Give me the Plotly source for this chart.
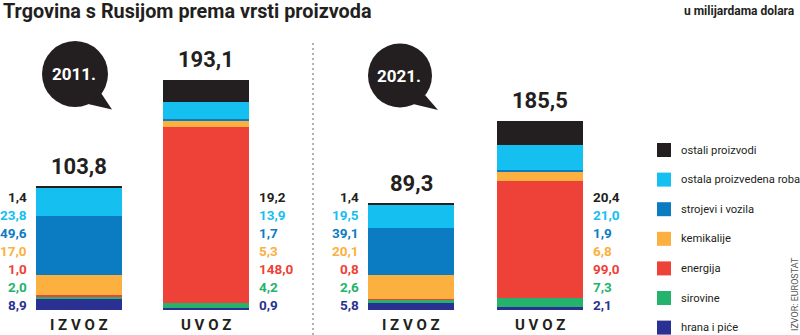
import plotly.graph_objects as go

# ---------------- data ----------------
categories = ["hrana i piće", "sirovine", "energija", "kemikalije",
              "strojevi i vozila", "ostala proizvedena roba", "ostali proizvodi"]
colors = ["#2b3192", "#25b36c", "#ee4137", "#fbb040", "#0b7cc2", "#15c0f0", "#231f20"]
label_colors = ["#2b3192", "#25b36c", "#ee4137", "#fbb040", "#0b7cc2", "#15c0f0", "#231f20"]

izvoz_2011 = [8.9, 2.0, 1.0, 17.0, 49.6, 23.8, 1.4]
uvoz_2011 = [0.9, 4.2, 148.0, 5.3, 1.7, 13.9, 19.2]
izvoz_2021 = [5.8, 2.6, 0.8, 20.1, 39.1, 19.5, 1.4]
uvoz_2021 = [2.1, 7.3, 99.0, 6.8, 1.9, 21.0, 20.4]

bar_names = ["I\u00a0Z\u00a0V\u00a0O\u00a0Z", "U\u00a0V\u00a0O\u00a0Z",
             "I\u00a0Z\u00a0V\u00a0O\u00a0Z", "U\u00a0V\u00a0O\u00a0Z"]
total_labels = ["103,8", "193,1", "89,3", "185,5"]
years = ["2011.", "2021."]

title = "Trgovina s Rusijom prema vrsti proizvoda"
unit = "u milijardama dolara"
source = "IZVOR: EUROSTAT"

# ---------------- layout constants ----------------
W, H = 800, 335
BASE_PX = 309.5      # pixel row of value 0
K = 1.19             # pixels per unit
bar_centers = [79, 205.5, 411, 540]
bar_width = 86
FONT = "Roboto, Liberation Sans, sans-serif"

series = [izvoz_2011, uvoz_2011, izvoz_2021, uvoz_2021]


def py(p):  # pixel row -> paper
    return 1 - p / H


fig = go.Figure()
for i, cat in enumerate(categories):
    fig.add_trace(go.Bar(
        x=bar_centers, y=[s[i] for s in series], width=bar_width,
        name=cat, marker=dict(color=colors[i], line=dict(width=0)),
        hoverinfo="skip", showlegend=False))

ann = []
shapes = []

# title & unit
ann.append(dict(x=1, y=py(11), xref="x", yref="paper", text=f"<b>{title}</b>",
                showarrow=False, xanchor="left", yanchor="middle",
                font=dict(family=FONT, size=19.8, color="#231f20")))
ann.append(dict(x=797, y=py(11), xref="x", yref="paper", text=f"<b>{unit}</b>",
                showarrow=False, xanchor="right", yanchor="middle",
                font=dict(family=FONT, size=12, color="#231f20")))

# totals
for j, s in enumerate(series):
    ann.append(dict(x=bar_centers[j], y=sum(s), xref="x", yref="y", text=f"<b>{total_labels[j]}</b>",
                    showarrow=False, xanchor="center", yanchor="middle", yshift=20,
                    font=dict(family=FONT, size=22, color="#231f20")))
    ann.append(dict(x=bar_centers[j], y=py(325), xref="x", yref="paper", text=f"<b>{bar_names[j]}</b>",
                    showarrow=False, xanchor="center", yanchor="middle",
                    font=dict(family=FONT, size=15, color="#231f20")))

# value labels
for j, s in enumerate(series):
    left = (j % 2 == 0)
    xpos = bar_centers[j] - bar_width / 2 - 7 if left else bar_centers[j] + bar_width / 2 + 8
    for r in range(len(categories)):
        i = len(categories) - 1 - r  # top to bottom
        ann.append(dict(x=xpos, y=py(197 + r * 18), xref="x", yref="paper",
                        text="<b>" + f"{s[i]:.1f}".replace(".", ",") + "</b>",
                        showarrow=False, xanchor="right" if left else "left", yanchor="middle",
                        font=dict(family=FONT, size=13.5, color=label_colors[i])))

# legend
for r in range(len(categories)):
    i = len(categories) - 1 - r
    yc = 150 + r * 29.6
    shapes.append(dict(type="rect", xref="x", yref="paper", x0=657, x1=671,
                       y0=py(yc + 7), y1=py(yc - 7), fillcolor=colors[i], line=dict(width=0)))
    ann.append(dict(x=679, y=py(yc), xref="x", yref="paper", text=categories[i],
                    showarrow=False, xanchor="left", yanchor="middle",
                    font=dict(family=FONT, size=11.2, color="#231f20")))

# source
ann.append(dict(x=795, y=py(294), xref="x", yref="paper", text=source, textangle=-90,
                showarrow=False, xanchor="center", yanchor="middle",
                font=dict(family=FONT, size=9, color="#555555")))

# divider
shapes.append(dict(type="line", xref="x", yref="paper", x0=313, x1=313, y0=py(43), y1=py(335),
                   line=dict(color="#999999", width=1.5, dash="2px,3px")))

# speech bubbles
bubbles = [((75, 74), 33, [(101, 93), (112, 109.5), (88, 104)]),
           ((400, 75.5), 32, [(425, 95), (438, 110), (413, 104)])]
for k, ((cx, cy), rad, tail) in enumerate(bubbles):
    shapes.append(dict(type="circle", xref="x", yref="paper", x0=cx - rad, x1=cx + rad,
                       y0=py(cy + rad), y1=py(cy - rad), fillcolor="#231f20", line=dict(width=0)))
    path = "M " + " L ".join(f"{x},{py(y)}" for x, y in tail) + " Z"
    shapes.append(dict(type="path", xref="x", yref="paper", path=path,
                       fillcolor="#231f20", line=dict(width=0)))
    ann.append(dict(x=cx - 1, y=py(cy), xref="x", yref="paper", text=f"<b>{years[k]}</b>",
                    showarrow=False, xanchor="center", yanchor="middle",
                    font=dict(family=FONT, size=17, color="white")))

fig.update_layout(
    width=W, height=H, margin=dict(l=0, r=0, t=0, b=0),
    paper_bgcolor="white", plot_bgcolor="white",
    barmode="stack", bargap=0, hovermode=False,
    xaxis=dict(range=[0, W], visible=False, fixedrange=True),
    yaxis=dict(range=[(BASE_PX - H) / K, BASE_PX / K], visible=False, fixedrange=True),
    annotations=ann, shapes=shapes,
)
fig.write_html("out.html")
